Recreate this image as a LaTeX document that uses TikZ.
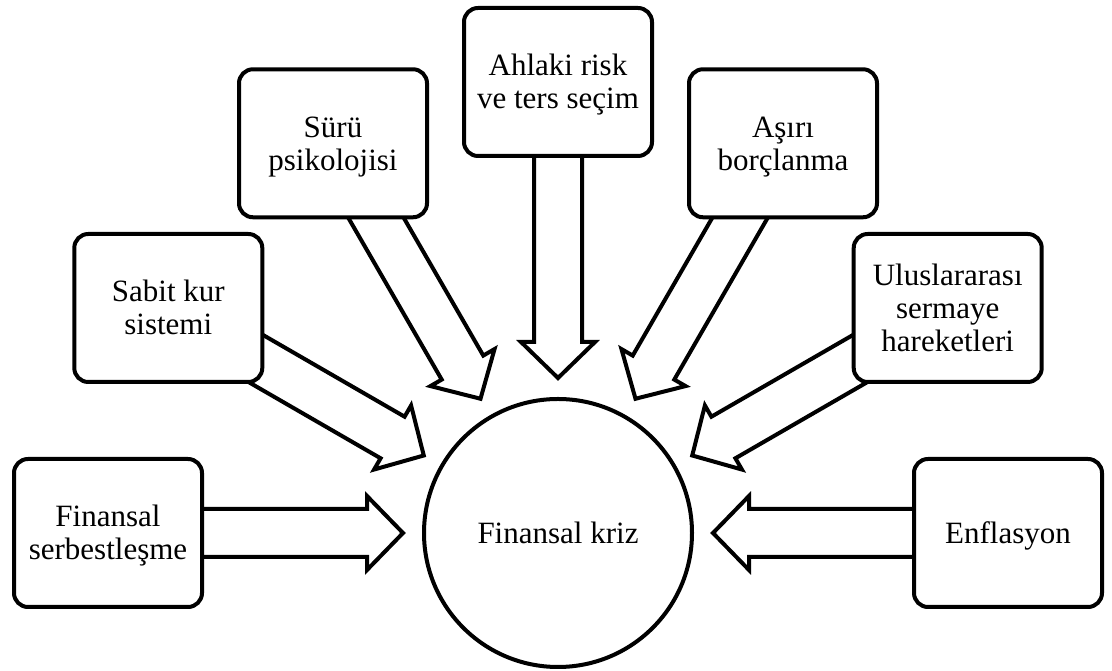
\documentclass[tikz,border=0pt]{standalone}
\usepackage{fontspec}
\setmainfont{Liberation Serif}
\usetikzlibrary{calc,backgrounds}

\tikzset{
  labelfont/.style={font=\fontsize{31}{33}\selectfont},
  factor/.style={draw, line width=4pt, rounded corners=14pt, fill=white,
    minimum width=188pt, minimum height=148pt, align=center, inner sep=0pt, labelfont},
  crisis/.style={draw, circle, line width=4pt, fill=white,
    minimum size=268pt, inner sep=0pt, labelfont},
  bigarrow/.style={draw, line width=4pt, line join=miter, fill=white}
}

% One text line measured from its cap height down to its baseline,
% so accents and descenders do not move the text off centre.
\newcommand\txtline[1]{\raisebox{0pt}[21pt][0pt]{#1}}

% Hollow block arrow from the centre of box #1 towards node #2,
% stopping short of #2; its tail is hidden under the box.
\newcommand\blockarrow[2]{%
  \coordinate (ba-h) at ($(#2)!191pt!(#1)$);
  \coordinate (ba-t) at ($(#2)!155pt!(#1)$);
  \draw[bigarrow] (ba-t)
    -- ($(ba-h)!37pt!90:(#1)$) -- ($(ba-h)!24pt!90:(#1)$)
    -- ($(#1)!24pt!-90:(#2)$) -- ($(#1)!24pt!90:(#2)$)
    -- ($(ba-h)!24pt!-90:(#1)$) -- ($(ba-h)!37pt!-90:(#1)$) -- cycle;
}

\begin{document}
\begin{tikzpicture}[x=1pt,y=1pt]
  \useasboundingbox (0,0) rectangle (1112,671);

  \node[crisis] (c) at (558,138) {\txtline{Finansal kriz}};

  \node[factor] (fin)  at ($(c)+(180:450)$) {\txtline{Finansal}\\\txtline{serbestleşme}};
  \node[factor] (sab)  at ($(c)+(150:450)$) {\txtline{Sabit kur}\\\txtline{sistemi}};
  \node[factor] (suru) at ($(c)+(120:450)$) {\txtline{Sürü}\\\txtline{psikolojisi}};
  \node[factor] (ahl)  at ($(c)+(90:451)$)  {\txtline{Ahlaki risk}\\\txtline{ve ters seçim}};
  \node[factor] (asr)  at ($(c)+(60:450)$)  {\txtline{Aşırı}\\\txtline{borçlanma}};
  \node[factor] (ulu)  at ($(c)+(30:450)$)  {\txtline{Uluslararası}\\\txtline{sermaye}\\\txtline{hareketleri}};
  \node[factor] (enf)  at ($(c)+(0:450)$)   {\txtline{Enflasyon}};

  \begin{scope}[on background layer]
    \foreach \b in {fin,sab,suru,ahl,asr,ulu,enf}{\blockarrow{\b}{c}}
  \end{scope}
\end{tikzpicture}
\end{document}
